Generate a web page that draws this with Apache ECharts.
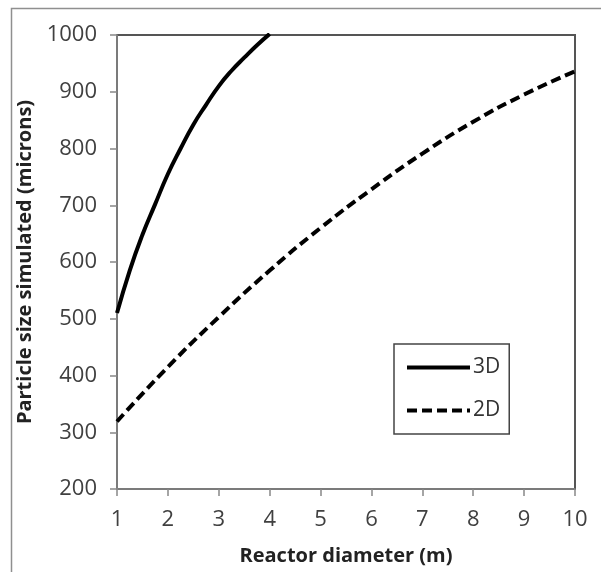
<!DOCTYPE html>
<html>
<head>
<meta charset="utf-8">
<script src="https://cdn.jsdelivr.net/npm/echarts@6/dist/echarts.min.js"></script>
<style>html,body{margin:0;padding:0;background:#fff;}#c{width:601px;height:572px;}</style>
</head>
<body>
<div id="c"></div>
<script>
// Data
const diameter3D = [1, 1.25, 1.5, 1.75, 2, 2.25, 2.5, 2.75, 3, 3.25, 3.5, 3.75, 4];
const size3D     = [510, 585, 648, 702, 755, 800, 842, 877, 910, 937, 960, 982, 1002];
const diameter2D = [1, 2, 3, 4, 5, 6, 7, 8, 9, 10];
const size2D     = [319, 415, 503, 585, 660, 728, 791, 847, 895, 936];
const seriesNames = ['3D', '2D'];
const xTitle = 'Reactor diameter (m)';
const yTitle = 'Particle size simulated (microns)';

const FONT = 'Open Sans';
const chart = echarts.init(document.getElementById('c'), null, {renderer: 'canvas'});
chart.setOption({
  animation: false,
  backgroundColor: '#fff',
  graphic: [{
    type: 'rect', left: 9, top: 6, silent: true,
    shape: {width: 620, height: 600},
    style: {fill: 'none', stroke: '#8f8f8f', lineWidth: 1.5}
  }],
  grid: {left: 117, right: 26, top: 35, bottom: 83, show: true,
         borderColor: '#555', borderWidth: 2, backgroundColor: 'transparent'},
  legend: {
    orient: 'vertical', left: 394, top: 344,
    padding: [13, 9, 13, 11], itemGap: 22,
    itemWidth: 63, itemHeight: 14,
    borderColor: '#444', borderWidth: 1.5,
    itemStyle: {opacity: 0},
    lineStyle: {width: 4},
    textStyle: {fontFamily: FONT, fontSize: 21, color: '#333', lineHeight: 20, padding: [0, 0, 0, -2]},
    data: seriesNames
  },
  xAxis: {
    type: 'value', min: 1, max: 10, interval: 1,
    name: xTitle, nameLocation: 'middle', nameGap: 57,
    nameTextStyle: {fontFamily: FONT, fontSize: 20, fontWeight: 'bold', color: '#222'},
    axisLine: {show: true, lineStyle: {color: '#888', width: 1.5}},
    axisTick: {show: true, length: 7, lineStyle: {color: '#888', width: 1.5}},
    axisLabel: {fontFamily: FONT, fontSize: 22, color: '#404040', margin: 20},
    splitLine: {show: false}
  },
  yAxis: {
    type: 'value', min: 200, max: 1000, interval: 100,
    name: yTitle, nameLocation: 'middle', nameGap: 78, nameRotate: 90,
    nameTextStyle: {fontFamily: FONT, fontSize: 20, fontWeight: 'bold', color: '#222'},
    axisLine: {show: true, lineStyle: {color: '#888', width: 1.5}},
    axisTick: {show: true, length: 7, lineStyle: {color: '#888', width: 1.5}},
    axisLabel: {fontFamily: FONT, fontSize: 22, color: '#404040', margin: 20,
                formatter: v => String(v)},
    splitLine: {show: false}
  },
  series: [
    {
      name: seriesNames[0], type: 'line', smooth: true, symbol: 'none', clip: true,
      data: diameter3D.map((d, i) => [d, size3D[i]]),
      lineStyle: {color: '#000', width: 4, type: 'solid'},
      itemStyle: {color: '#000'}
    },
    {
      name: seriesNames[1], type: 'line', smooth: true, symbol: 'none', clip: true,
      data: diameter2D.map((d, i) => [d, size2D[i]]),
      lineStyle: {color: '#000', width: 4, type: [10, 5]},
      itemStyle: {color: '#000'}
    }
  ]
});
</script>
</body>
</html>
